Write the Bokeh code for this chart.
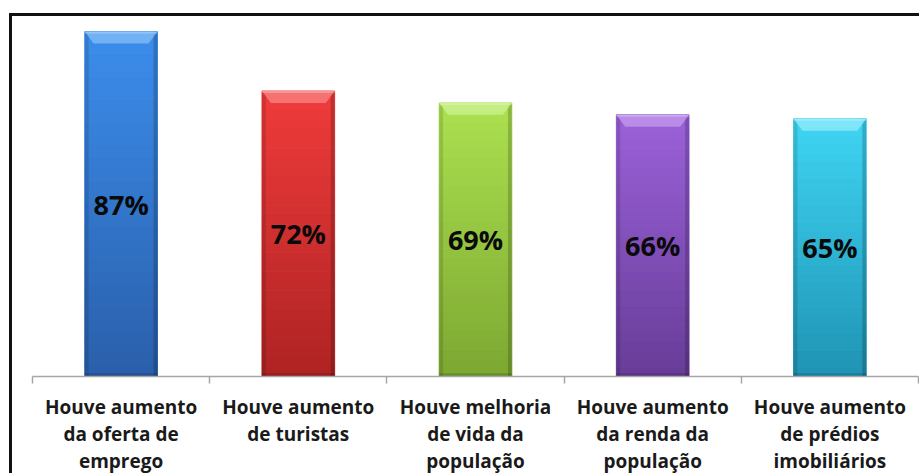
from bokeh.plotting import figure
from bokeh.models import FixedTicker, Range1d, ColumnDataSource, LabelSet
from bokeh.embed import file_html
from bokeh.resources import INLINE
from bokeh.core.properties import value

# ---- data ----
categories = [
    "Houve aumento\nda oferta de\nemprego",
    "Houve aumento\nde turistas",
    "Houve melhoria\nde vida da\npopulação",
    "Houve aumento\nda renda da\npopulação",
    "Houve aumento\nde prédios\nimobiliários",
]
values = [87, 72, 69, 66, 65]
value_labels = ["87%", "72%", "69%", "66%", "65%"]
top_colors = ["#3C8DEC", "#F03B3B", "#ACE150", "#9B61D9", "#3FD5F3"]
bottom_colors = ["#2A5FAA", "#AE2323", "#7CA731", "#673C97", "#1F93B4"]
bevel_colors = ["#79B8F6", "#F77C7C", "#C8F08A", "#BE95EA", "#8BE8FA"]


def hex2rgb(h):
    h = h.lstrip("#")
    return tuple(int(h[i:i + 2], 16) for i in (0, 2, 4))


def rgb2hex(c):
    return "#%02x%02x%02x" % tuple(int(round(v)) for v in c)


def mix(a, b, t):
    ca, cb = hex2rgb(a), hex2rgb(b)
    return rgb2hex([ca[i] + (cb[i] - ca[i]) * t for i in range(3)])


n_cat = len(categories)
xs = [i + 0.5 for i in range(n_cat)]
bar_w = 0.41
half = bar_w / 2

p = figure(
    width=910, height=460,
    x_range=Range1d(0, n_cat), y_range=Range1d(0, 90.8),
    output_backend="svg", toolbar_location=None,
    y_axis_location=None,
    min_border_left=20, min_border_right=4, min_border_top=0, min_border_bottom=96,
    background_fill_color="white", border_fill_color="white",
)
p.styles = {
    "margin-top": "13px", "margin-left": "9px",
    "border-left": "3px solid #111111", "border-top": "3px solid #111111",
}
p.outline_line_color = None
p.grid.visible = False

# ---- gradient bars built from values ----
N = 30
L, R, B, T, C = [], [], [], [], []
for x, v, tc, bc in zip(xs, values, top_colors, bottom_colors):
    for k in range(N):
        L.append(x - half)
        R.append(x + half)
        B.append(v * k / N)
        T.append(v * (k + 1) / N)
        C.append(mix(bc, tc, (k + 0.5) / N))
src = ColumnDataSource(dict(left=L, right=R, bottom=B, top=T, color=C))
p.quad(left="left", right="right", bottom="bottom", top="top", source=src,
       fill_color="color", line_color="color", line_width=1)

# side shading
side = 0.022
p.quad(left=[x - half for x in xs], right=[x - half + side for x in xs],
       bottom=[0] * n_cat, top=values, fill_color="black", fill_alpha=0.12, line_color=None)
p.quad(left=[x + half - side for x in xs], right=[x + half for x in xs],
       bottom=[0] * n_cat, top=values, fill_color="black", fill_alpha=0.18, line_color=None)

# top bevel
bev_h = 3.0
bev_d = 0.05
px, py = [], []
for x, v in zip(xs, values):
    px.append([x - half, x + half, x + half - bev_d, x - half + bev_d])
    py.append([v, v, v - bev_h, v - bev_h])
p.patches(px, py, fill_color=bevel_colors, fill_alpha=0.85, line_color=None)
p.quad(left=[x - half for x in xs], right=[x + half for x in xs],
       bottom=[v - 0.5 for v in values], top=values,
       fill_color="white", fill_alpha=0.25, line_color=None)

# bottom shadow line
p.quad(left=[x - half for x in xs], right=[x + half for x in xs],
       bottom=[0] * n_cat, top=[0.8] * n_cat, fill_color="black", fill_alpha=0.15, line_color=None)

# value labels
lab_src = ColumnDataSource(dict(x=xs, y=[v / 2 for v in values], text=value_labels))
p.add_layout(LabelSet(x="x", y="y", text="text", source=lab_src,
                      text_align="center", text_baseline="middle",
                      text_font=value("Open Sans"), text_font_style="bold",
                      text_font_size="27px", text_color="#0a0a0a"))

# x axis
ax = p.xaxis[0]
ax.ticker = FixedTicker(ticks=xs, minor_ticks=list(range(n_cat + 1)))
ax.major_label_overrides = {x: c for x, c in zip(xs, categories)}
ax.axis_line_color = "#A6A6A6"
ax.axis_line_width = 1.5
ax.major_tick_line_color = None
ax.major_tick_out = 0
ax.major_tick_in = 0
ax.minor_tick_line_color = "#A6A6A6"
ax.minor_tick_line_width = 1.5
ax.minor_tick_out = 7
ax.minor_tick_in = 0
ax.major_label_standoff = 10
ax.major_label_text_font = "Open Sans"
ax.major_label_text_font_style = "bold"
ax.major_label_text_font_size = "19px"
ax.major_label_text_color = "#1a1a1a"
ax.major_label_text_line_height = 1.04
ax.major_label_orientation = "horizontal"

open("out.html", "w").write(file_html(p, INLINE))
